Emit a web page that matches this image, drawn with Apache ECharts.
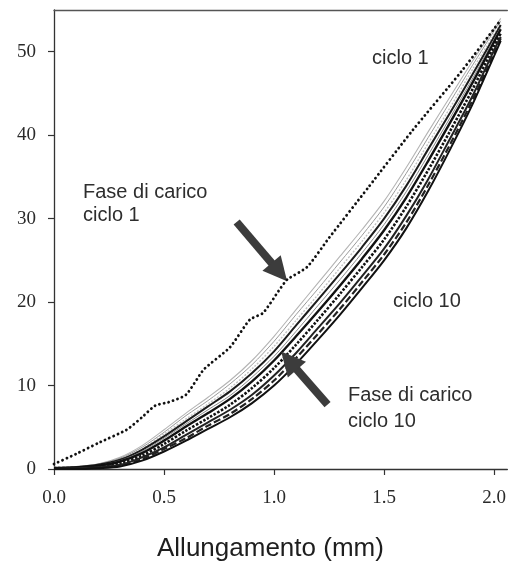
<!DOCTYPE html>
<html><head><meta charset="utf-8">
<script src="https://cdn.jsdelivr.net/npm/echarts@6/dist/echarts.min.js"></script>
<style>html,body{margin:0;padding:0;background:#fff}#c{width:509px;height:565px}</style>
</head><body><div id="c"></div>
<script>
// ---- data ----
const xTicks = [0, 0.5, 1.0, 1.5, 2.0];
const yTicks = [0, 10, 20, 30, 40, 50];

// loading phase, cycle 1 (dotted)
const cycle1X = [0, 0.1, 0.2, 0.33, 0.4, 0.46, 0.52, 0.6, 0.68, 0.8, 0.89, 0.95, 1.025, 1.06, 1.15, 1.25, 1.43, 1.63, 1.85, 2.03];
const cycle1Y = [0.6, 1.8, 3.1, 4.7, 6.2, 7.6, 8.0, 8.9, 11.9, 14.6, 17.9, 18.7, 21.5, 22.7, 24.2, 27.7, 33.8, 40.6, 47.6, 53.8];

// shared x for the bundle of later cycles
const bundleX = [0, 0.1, 0.2, 0.3, 0.4, 0.5, 0.6, 0.7, 0.8, 0.9, 1.0, 1.1, 1.2, 1.3, 1.4, 1.5, 1.6, 1.7, 1.8, 1.9, 2.0, 2.03];
const curveA = [0.2, 0.3, 0.6, 1.4, 2.8, 4.7, 6.7, 8.6, 10.6, 13.0, 15.9, 19.1, 22.3, 25.5, 28.7, 32.1, 36.1, 40.4, 44.6, 48.8, 52.8, 54.0];
const curveB = [0.2, 0.3, 0.6, 1.3, 2.6, 4.4, 6.4, 8.2, 10.2, 12.5, 15.3, 18.5, 21.6, 24.8, 28.0, 31.4, 35.4, 39.7, 44.0, 48.3, 52.5, 53.7];
const curveC = [0.2, 0.2, 0.5, 1.2, 2.4, 4.2, 6.0, 7.8, 9.7, 12.0, 14.7, 17.8, 20.9, 24.1, 27.3, 30.7, 34.6, 39.0, 43.3, 47.8, 52.1, 53.5];
const curveD = [0.1, 0.2, 0.5, 1.1, 2.3, 3.9, 5.7, 7.5, 9.3, 11.5, 14.1, 17.2, 20.3, 23.4, 26.6, 30.0, 33.9, 38.3, 42.7, 47.2, 51.8, 53.2];
const curveE = [0.1, 0.2, 0.4, 1.0, 2.1, 3.7, 5.4, 7.1, 8.8, 11.0, 13.5, 16.5, 19.6, 22.7, 25.9, 29.3, 33.2, 37.6, 42.1, 46.7, 51.5, 52.9];
const curveF = [0.1, 0.2, 0.4, 0.9, 1.9, 3.4, 5.1, 6.7, 8.4, 10.5, 13.0, 15.9, 18.9, 22.0, 25.2, 28.6, 32.5, 36.9, 41.5, 46.2, 51.2, 52.7];
const curveG = [0.1, 0.1, 0.3, 0.7, 1.6, 3.0, 4.6, 6.1, 7.7, 9.7, 12.1, 14.9, 17.9, 21.0, 24.2, 27.5, 31.4, 35.8, 40.5, 45.4, 50.7, 52.2];
const curveH = [0.0, 0.1, 0.2, 0.5, 1.4, 2.6, 4.1, 5.6, 7.1, 8.9, 11.2, 13.9, 16.9, 19.9, 23.1, 26.4, 30.3, 34.7, 39.6, 44.6, 50.2, 51.8];
const curveI = [0.0, 0.0, 0.2, 0.4, 1.2, 2.4, 3.7, 5.2, 6.6, 8.4, 10.6, 13.3, 16.2, 19.2, 22.4, 25.7, 29.5, 34.0, 38.9, 44.1, 49.8, 51.6];
const curveJ = [0.0, 0.0, 0.1, 0.3, 1.0, 2.1, 3.4, 4.8, 6.2, 7.9, 10.0, 12.6, 15.5, 18.5, 21.7, 25.0, 28.8, 33.3, 38.3, 43.6, 49.5, 51.3];

// annotation arrows (data coordinates: tail, head)
const arrow1 = [[0.83, 29.6], [1.024, 23.6]];
const arrow2 = [[1.243, 7.7], [1.068, 13.0]];

// ---- chart ----
const zip = (xa, ya) => xa.map((x, i) => [x, ya[i]]);
const bundle = [
  {d: curveA, c: '#b4b4b4', w: 1.1, t: 'solid'},
  {d: curveB, c: '#9a9a9a', w: 1.0, t: 'solid'},
  {d: curveC, c: '#c2c2c2', w: 1.4, t: [2, 1.5]},
  {d: curveD, c: '#1c1c1c', w: 2.0, t: 'solid'},
  {d: curveE, c: '#8a8a8a', w: 1.0, t: 'solid'},
  {d: curveF, c: '#111', w: 2.4, t: 'solid'},
  {d: curveG, c: '#111', w: 2.6, t: [2.5, 1.6]},
  {d: curveH, c: '#222', w: 2.0, t: 'solid'},
  {d: curveI, c: '#222', w: 2.2, t: [7, 3]},
  {d: curveJ, c: '#111', w: 2.0, t: 'solid'}
];
const series = bundle.map(b => ({
  type: 'line', data: zip(bundleX, b.d), showSymbol: false, silent: true,
  smooth: 0.3, lineStyle: {color: b.c, width: b.w, type: b.t}
}));
const arrowColor = '#3c3c3c';
series.push({
  type: 'line', data: zip(cycle1X, cycle1Y), showSymbol: false, silent: true,
  smooth: 0.2, z: 5,
  lineStyle: {color: '#111', width: 2.8, type: [0.1, 4.6], cap: 'round'},
  markLine: {
    silent: true, symbol: ['none', 'triangle'], symbolSize: 24,
    label: {show: false},
    itemStyle: {color: arrowColor},
    lineStyle: {color: arrowColor, width: 8, type: 'solid'},
    emphasis: {disabled: true},
    data: [
      [{coord: arrow1[0]}, {coord: arrow1[1]}],
      [{coord: arrow2[0]}, {coord: arrow2[1]}]
    ]
  }
});

const serif = '"Liberation Serif", "DejaVu Serif", serif';
const sans = '"Liberation Sans", Arial, sans-serif';
const chart = echarts.init(document.getElementById('c'), null, {renderer: 'canvas'});
chart.setOption({
  animation: false,
  backgroundColor: '#fff',
  grid: {left: 54, right: 1, top: 10, bottom: 96, containLabel: false},
  xAxis: [{
    type: 'value', min: 0, max: 2.06,
    axisLine: {show: true, lineStyle: {color: '#333', width: 1.3}},
    axisTick: {show: true, length: 6, inside: false, customValues: xTicks, lineStyle: {color: '#333', width: 1.2}},
    axisLabel: {customValues: xTicks, formatter: v => v.toFixed(1), fontFamily: serif, fontSize: 19, color: '#2a2a2a', margin: 20},
    splitLine: {show: false}
  }, {
    type: 'value', min: 0, max: 2.06, position: 'top',
    axisLine: {show: true, onZero: false, lineStyle: {color: '#555', width: 1.3}},
    axisTick: {show: false}, axisLabel: {show: false}, splitLine: {show: false}
  }],
  yAxis: {
    type: 'value', min: 0, max: 55,
    axisLine: {show: true, lineStyle: {color: '#333', width: 1.3}},
    axisTick: {show: true, length: 6, customValues: yTicks, lineStyle: {color: '#333', width: 1.2}},
    axisLabel: {customValues: yTicks, fontFamily: serif, fontSize: 19, color: '#2a2a2a', margin: 18},
    splitLine: {show: false}
  },
  series: series,
  graphic: [
    {type: 'text', left: 83, top: 181, style: {text: 'Fase di carico\nciclo 1', font: '20px ' + sans, fill: '#2e2e2e', lineHeight: 23}},
    {type: 'text', left: 372, top: 47, style: {text: 'ciclo 1', font: '20px ' + sans, fill: '#2e2e2e', lineHeight: 23}},
    {type: 'text', left: 393, top: 290, style: {text: 'ciclo 10', font: '20px ' + sans, fill: '#2e2e2e', lineHeight: 23}},
    {type: 'text', left: 348, top: 382, style: {text: 'Fase di carico\nciclo 10', font: '20px ' + sans, fill: '#2e2e2e', lineHeight: 26}},
    {type: 'text', left: 157, top: 536, style: {text: 'Allungamento (mm)', font: '26px ' + sans, fill: '#1e1e1e', lineHeight: 26}}
  ]
});
</script>
</body></html>
